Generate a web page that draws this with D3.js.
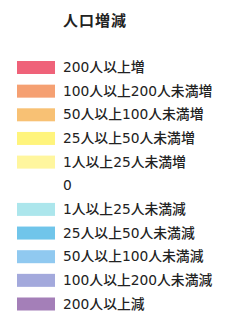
<!DOCTYPE html>
<html>
<head>
<meta charset="utf-8">
<script src="https://cdn.jsdelivr.net/npm/d3@7"></script>
<style>
  body { margin: 0; background: #fff; }
  svg { display: block; }
  text { font-family: "DejaVu Sans", "Noto Sans CJK JP", sans-serif; fill: #222; }
</style>
</head>
<body>
<script>
const TITLE = "人口増減";
const LABELS = [
    "200人以上増",
    "100人以上200人未満増",
    "50人以上100人未満増",
    "25人以上50人未満増",
    "1人以上25人未満増",
    "0",
    "1人以上25人未満減",
    "25人以上50人未満減",
    "50人以上100人未満減",
    "100人以上200人未満減",
    "200人以上減"
];
const COLORS = [
    "#ef6279",
    "#f5a072",
    "#f8c174",
    "#fff47c",
    "#fff69e",
    null,
    "#ace6ec",
    "#70c5ea",
    "#90c9f0",
    "#a3a9dc",
    "#a47fb8"
];

const width = 240, height = 317;
const svg = d3.select("body").append("svg")
    .attr("width", width)
    .attr("height", height);

const y = d3.scalePoint()
    .domain(d3.range(LABELS.length))
    .range([67.5, 304]);

svg.append("text")
    .attr("x", 63)
    .attr("y", 22)
    .attr("dominant-baseline", "middle")
    .style("font-family", "'Noto Sans CJK JP', sans-serif")
    .style("font-weight", "bold")
    .style("font-size", "15px")
    .style("letter-spacing", "1px")
    .text(TITLE);

const rows = svg.selectAll("g.row")
    .data(LABELS)
    .enter()
    .append("g")
    .attr("class", "row")
    .attr("transform", (d, i) => `translate(0, ${y(i)})`);

rows.filter((d, i) => COLORS[i] !== null)
    .append("rect")
    .attr("x", 17)
    .attr("y", -6.5)
    .attr("width", 38)
    .attr("height", 13)
    .attr("fill", (d, i) => COLORS[LABELS.indexOf(d)]);

rows.append("text")
    .attr("x", 63)
    .attr("y", 0.5)
    .attr("dominant-baseline", "middle")
    .style("font-size", "13.8px")
    .style("font-weight", 500)
    .text(d => d);
</script>
</body>
</html>
